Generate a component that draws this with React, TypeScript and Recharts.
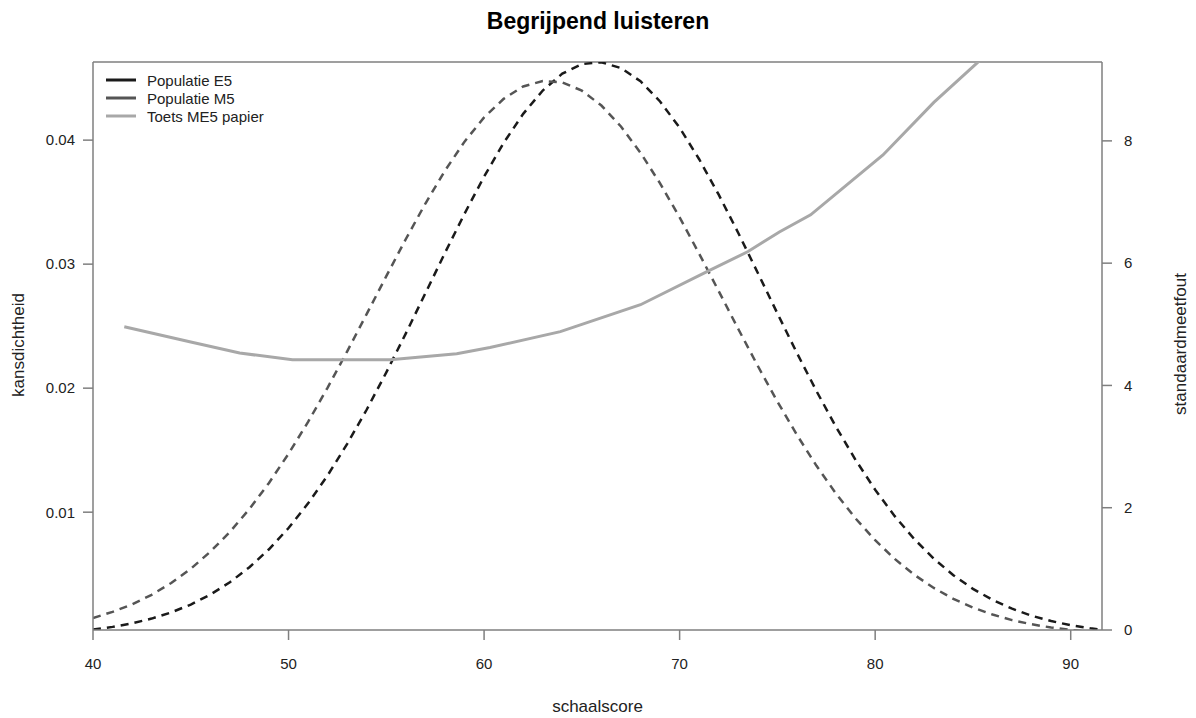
import React from 'react';
import { LineChart, Line, XAxis, YAxis, Legend, ReferenceLine } from 'recharts';

const SCORES = [
  40, 41, 42, 43, 44, 45, 46, 47, 48, 49, 50, 51, 52, 53, 54, 55, 56, 57, 58, 59, 60, 61, 62, 63, 64, 65,
  66, 67, 68, 69, 70, 71, 72, 73, 74, 75, 76, 77, 78, 79, 80, 81, 82, 83, 84, 85, 86, 87, 88, 89, 90, 91, 91.6,
];

// Populatie E5 (black dashed)
const E5_DENSITY = [
  0.000534, 0.000751, 0.00104, 0.00142, 0.00192, 0.00255, 0.00335, 0.00435, 0.00556, 0.00701, 0.00872,
  0.01071, 0.01297, 0.01551, 0.01828, 0.02127, 0.02442, 0.02766, 0.03091, 0.03407, 0.03706, 0.03978,
  0.04212, 0.044, 0.04536, 0.04613, 0.04628, 0.04581, 0.04475, 0.04312, 0.041, 0.03846, 0.0356, 0.03251,
  0.02929, 0.02603, 0.02283, 0.01976, 0.01687, 0.01421, 0.01181, 0.00968, 0.00783, 0.00625, 0.00492,
  0.00382, 0.00293, 0.00222, 0.00165, 0.00122, 0.000885, 0.000634, 0.000516,
];

// Populatie M5 (grey dashed)
const M5_DENSITY = [
  0.00147, 0.00196, 0.00257, 0.00334, 0.00429, 0.00544, 0.00681, 0.00841, 0.01026, 0.01236, 0.01471,
  0.01728, 0.02005, 0.02297, 0.02599, 0.02903, 0.03203, 0.03489, 0.03754, 0.03988, 0.04183, 0.04333,
  0.04433, 0.04477, 0.04466, 0.04399, 0.04279, 0.0411, 0.03898, 0.03651, 0.03377, 0.03084, 0.02782,
  0.02477, 0.02179, 0.01892, 0.01623, 0.01374, 0.01149, 0.00949, 0.00774, 0.00623, 0.00495, 0.00389,
  0.00301, 0.00231, 0.00175, 0.0013, 0.000961, 0.000699, 0.000503, 0.000357, 0.000289,
];

// Toets ME5 papier: standaardmeetfout (right axis)
const TOETS_SCORES = [41.6, 45.0, 47.5, 50.2, 55.2, 58.6, 60.3, 63.9, 68.0, 71.4, 73.5, 75.1, 76.7, 80.4, 83.0, 85.3];
const TOETS_SEM = [4.96, 4.71, 4.53, 4.42, 4.42, 4.52, 4.62, 4.88, 5.32, 5.86, 6.19, 6.51, 6.79, 7.77, 8.63, 9.3];

const X_TICKS = [40, 50, 60, 70, 80, 90];
const DENSITY_TICKS = [0.01, 0.02, 0.03, 0.04];
const SEM_TICKS = [0, 2, 4, 6, 8];

const X_DOMAIN = [40, 91.6];
const DENSITY_DOMAIN = [0.0005, 0.0463];
const SEM_DOMAIN = [0, 9.29];

const e5Data = SCORES.map((x, i) => ({ x, y: E5_DENSITY[i] }));
const m5Data = SCORES.map((x, i) => ({ x, y: M5_DENSITY[i] }));
const toetsData = TOETS_SCORES.map((x, i) => ({ x, y: TOETS_SEM[i] }));

const AXIS = '#7f7f7f';
const TEXT = '#222';
const FONT = '"Liberation Sans", Arial, sans-serif';

const renderLegend = (props: any) => {
  const { payload } = props;
  return (
    <div style={{ fontFamily: FONT }}>
      {payload.map((entry: any) => (
        <div key={entry.value} style={{ display: 'flex', alignItems: 'center', height: 18 }}>
          <svg width={30} height={4} style={{ marginRight: 11 }}>
            <line x1={0} y1={2} x2={30} y2={2} stroke={entry.color} strokeWidth={3} />
          </svg>
          <span style={{ fontSize: 15, color: TEXT, whiteSpace: 'nowrap' }}>{entry.value}</span>
        </div>
      ))}
    </div>
  );
};

export default function App() {
  return (
    <div style={{ position: 'absolute', left: 0, top: 0, width: 1196, height: 718, background: '#fff', fontFamily: FONT }}>
      <div
        style={{
          position: 'absolute', top: 10, left: 0, width: 1196, textAlign: 'center',
          fontSize: 23, lineHeight: '23px', fontWeight: 'bold', color: '#000',
        }}
      >
        Begrijpend luisteren
      </div>

      <LineChart width={1196} height={718} margin={{ top: 62, right: 0, bottom: 0, left: 0 }}>
        <XAxis
          type="number"
          dataKey="x"
          domain={X_DOMAIN}
          ticks={X_TICKS}
          allowDataOverflow
          height={88}
          stroke={AXIS}
          strokeWidth={1.5}
          tickSize={10}
          tickMargin={18}
          tick={{ fill: TEXT, fontSize: 15 }}
          label={{ value: 'schaalscore', position: 'insideBottom', offset: 6, fill: TEXT, fontSize: 17 }}
        />
        <YAxis
          yAxisId="left"
          type="number"
          domain={DENSITY_DOMAIN}
          ticks={DENSITY_TICKS}
          allowDataOverflow
          width={93}
          stroke={AXIS}
          strokeWidth={1.5}
          tickSize={10}
          tickMargin={8}
          tick={{ fill: TEXT, fontSize: 15 }}
          tickFormatter={(v: number) => v.toFixed(2)}
        />
        <YAxis
          yAxisId="right"
          orientation="right"
          type="number"
          domain={SEM_DOMAIN}
          ticks={SEM_TICKS}
          allowDataOverflow
          width={94}
          stroke={AXIS}
          strokeWidth={1.5}
          tickSize={10}
          tickMargin={12}
          tick={{ fill: TEXT, fontSize: 15 }}
        />
        <ReferenceLine yAxisId="left" y={DENSITY_DOMAIN[1]} stroke={AXIS} strokeWidth={1.5} />
        <Legend
          layout="horizontal"
          verticalAlign="middle"
          align="center"
          content={renderLegend}
          wrapperStyle={{ left: 106, top: 71, width: 300 }}
        />
        <Line
          yAxisId="left"
          data={e5Data}
          dataKey="y"
          name="Populatie E5"
          type="linear"
          stroke="#1a1a1a"
          strokeWidth={2.5}
          strokeDasharray="8 6"
          dot={false}
          isAnimationActive={false}
        />
        <Line
          yAxisId="left"
          data={m5Data}
          dataKey="y"
          name="Populatie M5"
          type="linear"
          stroke="#555555"
          strokeWidth={2.5}
          strokeDasharray="8 6"
          dot={false}
          isAnimationActive={false}
        />
        <Line
          yAxisId="right"
          data={toetsData}
          dataKey="y"
          name="Toets ME5 papier"
          type="linear"
          stroke="#a8a8a8"
          strokeWidth={3}
          dot={false}
          isAnimationActive={false}
        />
      </LineChart>

      <div
        style={{
          position: 'absolute', left: 19, top: 345, transform: 'translate(-50%, -50%) rotate(-90deg)',
          fontSize: 17, color: TEXT, whiteSpace: 'nowrap',
        }}
      >
        kansdichtheid
      </div>
      <div
        style={{
          position: 'absolute', left: 1181, top: 344, transform: 'translate(-50%, -50%) rotate(-90deg)',
          fontSize: 17, color: TEXT, whiteSpace: 'nowrap',
        }}
      >
        standaardmeetfout
      </div>
    </div>
  );
}
